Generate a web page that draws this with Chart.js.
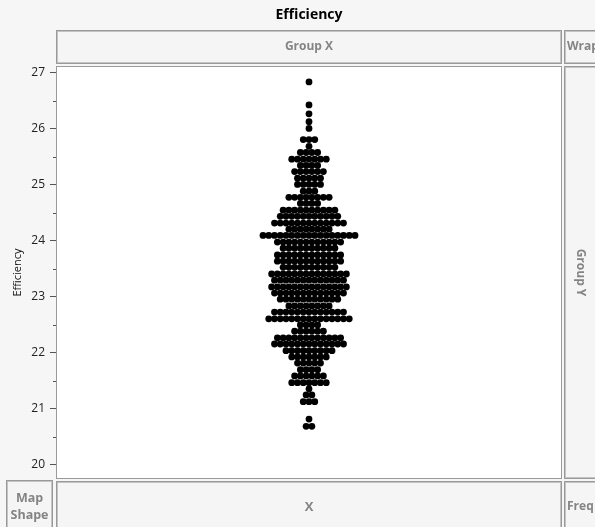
<!DOCTYPE html>
<html>
<head>
<meta charset="utf-8">
<title>Efficiency</title>
<script src="https://cdn.jsdelivr.net/npm/chart.js@4.4.1/dist/chart.umd.min.js"></script>
<style>
  html, body { margin: 0; padding: 0; background: #f6f6f6; }
  #wrap { position: relative; width: 595px; height: 527px; overflow: hidden; }
  canvas { display: block; }
</style>
</head>
<body>
<div id="wrap"><canvas id="chart" width="595" height="527"></canvas></div>
<script>
// Efficiency dot plot: one row of stacked dots per value bin
const rowValues = [
  26.84, 26.43, 26.27, 26.13, 26.01,
  25.81, 25.69, 25.58, 25.46, 25.35, 25.24, 25.12, 25.01,
  24.89, 24.78, 24.67, 24.55, 24.44, 24.32, 24.21, 24.10,
  23.98, 23.87, 23.75, 23.64, 23.53, 23.41, 23.30, 23.18, 23.07,
  22.96, 22.84, 22.73, 22.61, 22.50, 22.39, 22.27, 22.16, 22.04,
  21.93, 21.82, 21.70, 21.59, 21.47, 21.36, 21.25, 21.13,
  20.82, 20.69
];
const rowCounts = [
  1, 1, 1, 1, 1,
  3, 1, 4, 7, 4, 6, 5, 5,
  3, 8, 4, 10, 11, 13, 8, 17,
  12, 10, 12, 12, 10, 14, 13, 14, 13,
  11, 8, 13, 15, 4, 6, 12, 13, 9,
  7, 5, 4, 6, 7, 1, 2, 3,
  1, 2
];
const yTickValues = [20, 21, 22, 23, 24, 25, 26, 27];
const yMinorTickValues = [20.5, 21.5, 22.5, 23.5, 24.5, 25.5, 26.5];

const chartTitle = 'Efficiency';
const yAxisTitle = 'Efficiency';
const groupXLabel = 'Group X';
const groupYLabel = 'Group Y';
const xZoneLabel = 'X';
const wrapLabel = 'Wrap';
const freqLabel = 'Freq';
const mapShapeLabel = ['Map', 'Shape'];

// layout of the Graph Builder frame
const PLOT = { left: 57, top: 67, right: 561, bottom: 478 };
const DOT_PITCH = 5.75;           // horizontal distance between neighbouring dots, px
const FONT = "'Open Sans', 'Noto Sans', 'DejaVu Sans', sans-serif";

// x is measured in dot widths, centred on the middle of the plot
const halfSpan = (PLOT.right - PLOT.left) / (2 * DOT_PITCH);

const dots = [];
rowValues.forEach((v, r) => {
  const n = rowCounts[r];
  for (let i = 0; i < n; i++) {
    dots.push({ x: i - (n - 1) / 2, y: v });
  }
});

function zoneBox(ctx, x, y, w, h) {
  ctx.save();
  ctx.fillStyle = '#f5f5f5';
  ctx.fillRect(x, y, w, h);
  ctx.lineWidth = 1;
  ctx.strokeStyle = '#999999';
  ctx.strokeRect(x + 0.5, y + 0.5, w - 1, h - 1);
  ctx.strokeStyle = '#c4c4c4';
  ctx.strokeRect(x + 1.5, y + 1.5, w - 3, h - 3);
  ctx.restore();
}

function zoneText(ctx, text, x, y, align, size) {
  ctx.save();
  ctx.font = `bold ${size || 12}px ${FONT}`;
  ctx.fillStyle = '#848484';
  ctx.textAlign = align || 'center';
  ctx.textBaseline = 'middle';
  ctx.fillText(text, x, y);
  ctx.restore();
}

const framePlugin = {
  id: 'graphFrame',
  beforeDraw(chart) {
    const ctx = chart.ctx;
    const W = chart.width, H = chart.height;
    const a = chart.chartArea;
    ctx.save();
    ctx.fillStyle = '#f6f6f6';
    ctx.fillRect(0, 0, W, H);

    // title
    ctx.font = `bold 14px ${FONT}`;
    ctx.fillStyle = '#000';
    ctx.textAlign = 'center';
    ctx.textBaseline = 'middle';
    ctx.fillText(chartTitle, (a.left + a.right) / 2, 15);

    // drop zones round the plot
    zoneBox(ctx, a.left - 1, 30, a.right - a.left + 2, 34);
    zoneText(ctx, groupXLabel, (a.left + a.right) / 2, 47);
    zoneBox(ctx, a.right + 3, 30, 40, 34);
    zoneText(ctx, wrapLabel, a.right + 6, 47, 'left');

    zoneBox(ctx, a.right + 3, a.top - 1, 40, a.bottom - a.top + 2);
    ctx.save();
    ctx.translate(a.right + 19, (a.top + a.bottom) / 2);
    ctx.rotate(Math.PI / 2);
    zoneText(ctx, groupYLabel, 0, 0);
    ctx.restore();

    zoneBox(ctx, a.left - 1, a.bottom + 3, a.right - a.left + 2, 60);
    zoneText(ctx, xZoneLabel, (a.left + a.right) / 2, a.bottom + 29, 'center', 13);
    zoneBox(ctx, a.right + 3, a.bottom + 3, 40, 60);
    zoneText(ctx, freqLabel, a.right + 6, a.bottom + 29, 'left');

    zoneBox(ctx, 6, a.bottom + 2, a.left - 10, 60);
    zoneText(ctx, mapShapeLabel[0], 6 + (a.left - 10) / 2, a.bottom + 20, 'center', 12.5);
    zoneText(ctx, mapShapeLabel[1], 6 + (a.left - 10) / 2, a.bottom + 37, 'center', 12.5);

    // plot background
    ctx.fillStyle = '#ffffff';
    ctx.fillRect(a.left, a.top, a.right - a.left, a.bottom - a.top);
    ctx.restore();
  },
  afterDraw(chart) {
    const ctx = chart.ctx;
    const a = chart.chartArea;
    const ys = chart.scales.y;
    ctx.save();
    // half-unit minor ticks
    ctx.strokeStyle = '#555';
    ctx.lineWidth = 1;
    yMinorTickValues.forEach(v => {
      const py = Math.round(ys.getPixelForValue(v)) + 0.5;
      ctx.beginPath();
      ctx.moveTo(a.left - 4, py);
      ctx.lineTo(a.left, py);
      ctx.stroke();
    });
    // plot frame
    ctx.strokeStyle = '#9a9a9a';
    ctx.strokeRect(a.left - 0.5, a.top - 0.5, a.right - a.left + 1, a.bottom - a.top + 1);
    ctx.restore();
  }
};

new Chart(document.getElementById('chart'), {
  type: 'scatter',
  data: {
    datasets: [{
      label: yAxisTitle,
      data: dots,
      backgroundColor: '#000000',
      borderWidth: 0,
      pointRadius: 3.4,
      pointHoverRadius: 3.4
    }]
  },
  options: {
    responsive: false,
    animation: false,
    devicePixelRatio: 1,
    layout: {
      padding: { left: 0, top: PLOT.top, right: 595 - PLOT.right, bottom: 527 - PLOT.bottom }
    },
    plugins: {
      legend: { display: false },
      tooltip: { enabled: false },
      title: { display: false }
    },
    scales: {
      x: {
        type: 'linear',
        display: false,
        min: -halfSpan,
        max: halfSpan
      },
      y: {
        type: 'linear',
        min: 19.767,
        max: 27.107,
        afterFit(scale) { scale.width = PLOT.left; },
        afterBuildTicks(scale) { scale.ticks = yTickValues.map(v => ({ value: v })); },
        border: { display: false },
        grid: {
          drawOnChartArea: false,
          drawTicks: true,
          tickLength: 7,
          tickColor: '#555',
          tickWidth: 1
        },
        ticks: {
          padding: 5,
          color: '#222',
          font: { family: FONT, size: 12 },
          callback: v => String(v)
        },
        title: {
          display: true,
          text: yAxisTitle,
          color: '#111',
          font: { family: FONT, size: 11 },
          padding: { top: 11, bottom: 0 }
        }
      }
    }
  },
  plugins: [framePlugin]
});
</script>
</body>
</html>
